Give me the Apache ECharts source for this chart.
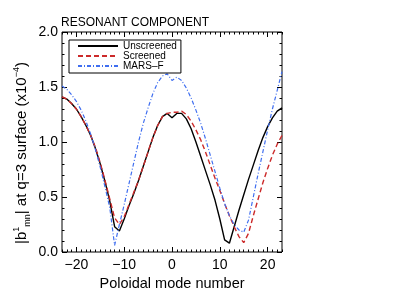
<!DOCTYPE html>
<html>
<head>
<meta charset="utf-8">
<script src="https://cdn.jsdelivr.net/npm/echarts@6/dist/echarts.min.js"></script>
<style>html,body{margin:0;padding:0;background:#fff;}#c{width:415px;height:297px;}</style>
</head>
<body>
<div id="c"></div>
<script>
const modes = [-23,-22,-21,-20,-19,-18,-17,-16,-15,-14,-13,-12,-11,-10,-9,-8,-7,-6,-5,-4,-3,-2,-1,0,1,2,3,4,5,6,7,8,9,10,11,12,13,14,15,16,17,18,19,20,21,22,23];
const unscreened = [1.41,1.39,1.35,1.30,1.23,1.15,1.06,0.94,0.80,0.64,0.46,0.23,0.19,0.30,0.42,0.53,0.65,0.78,0.91,1.04,1.15,1.23,1.26,1.22,1.26,1.26,1.21,1.12,1.00,0.87,0.74,0.61,0.47,0.30,0.11,0.08,0.23,0.38,0.52,0.66,0.79,0.92,1.04,1.14,1.22,1.28,1.31];
const screened = [1.41,1.39,1.35,1.30,1.23,1.15,1.06,0.95,0.81,0.65,0.48,0.31,0.25,0.32,0.43,0.54,0.65,0.78,0.91,1.04,1.15,1.23,1.26,1.27,1.27,1.28,1.25,1.19,1.11,1.02,0.91,0.79,0.67,0.56,0.44,0.33,0.23,0.14,0.085,0.17,0.33,0.48,0.63,0.76,0.88,0.98,1.06];
const marsF = [1.51,1.48,1.43,1.37,1.29,1.19,1.07,0.93,0.77,0.59,0.40,0.06,0.25,0.43,0.62,0.81,1.00,1.17,1.31,1.44,1.54,1.60,1.62,1.56,1.59,1.56,1.49,1.40,1.29,1.17,1.03,0.88,0.73,0.58,0.44,0.33,0.25,0.20,0.18,0.29,0.50,0.71,0.91,1.11,1.30,1.47,1.64];
const xMajorTicks = [-20,-10,0,10,20];
const seriesNames = ['Unscreened','Screened','MARS\u2013F'];

const FONT = 'Liberation Sans, Arial, Helvetica, sans-serif';
const pair = arr => modes.map((m,i)=>[m,arr[i]]);
const minus = v => String(v).replace('-', '\u2212');

const chart = echarts.init(document.getElementById('c'), null, {renderer:'canvas'});
const noLine = {show:false, onZero:false};
const xBase = {type:'value', min:-23, max:23, gridIndex:0, splitLine:{show:false}, axisLine:noLine};
chart.setOption({
  animation:false,
  backgroundColor:'#fff',
  title:{text:'RESONANT COMPONENT', left:61, top:17, padding:0,
    textStyle:{fontFamily:FONT, fontSize:12, fontWeight:'normal', color:'#000'}},
  grid:{left:62, top:32, width:220, height:220, show:true, borderColor:'#000', borderWidth:1, backgroundColor:'transparent'},
  legend:{
    data:seriesNames, orient:'vertical', left:69, top:40,
    padding:[1,4,2,8], itemGap:0, itemWidth:40, itemHeight:10,
    borderColor:'#000', borderWidth:1, backgroundColor:'#fff',
    itemStyle:{opacity:0},
    textStyle:{fontFamily:FONT, fontSize:10, color:'#000'}
  },
  xAxis:[
    Object.assign({}, xBase, {position:'bottom',
      axisTick:{show:true, inside:true, length:5, lineStyle:{color:'#000'}, customValues:xMajorTicks},
      axisLabel:{show:true, margin:6, fontFamily:FONT, fontSize:14, color:'#000', customValues:xMajorTicks, formatter:v=>minus(v)},
      name:'Poloidal mode number', nameLocation:'middle', nameGap:22,
      nameTextStyle:{fontFamily:FONT, fontSize:14.5, color:'#000'}}),
    Object.assign({}, xBase, {position:'bottom', interval:1,
      axisTick:{show:true, inside:true, length:2.5, lineStyle:{color:'#000'}}, axisLabel:{show:false}}),
    Object.assign({}, xBase, {position:'top',
      axisTick:{show:true, inside:true, length:5, lineStyle:{color:'#000'}, customValues:xMajorTicks},
      axisLabel:{show:false}}),
    Object.assign({}, xBase, {position:'top', interval:1,
      axisTick:{show:true, inside:true, length:2.5, lineStyle:{color:'#000'}}, axisLabel:{show:false}})
  ],
  yAxis:[
    {type:'value', min:0, max:2, interval:0.5, position:'left', splitLine:{show:false}, axisLine:noLine,
      axisTick:{show:true, inside:true, length:5, lineStyle:{color:'#000'}},
      minorTick:{show:true, splitNumber:5, length:2.5, lineStyle:{color:'#000'}},
      axisLabel:{margin:4, fontFamily:FONT, fontSize:14, color:'#000', formatter:v=>v.toFixed(1)}},
    {type:'value', min:0, max:2, interval:0.5, position:'right', splitLine:{show:false}, axisLine:noLine,
      axisTick:{show:true, inside:true, length:5, lineStyle:{color:'#000'}},
      minorTick:{show:true, splitNumber:5, length:2.5, lineStyle:{color:'#000'}},
      axisLabel:{show:false}}
  ],
  graphic:[{
    type:'text', x:22, y:153, rotation:Math.PI/2,
    style:{
      text:'{n||b}{sup|1}{sub|mn}{n|| at q=3 surface (x10}{sup|\u22124}{n|)}',
      align:'center', verticalAlign:'middle', fill:'#000',
      fontFamily:FONT, fontSize:15,
      rich:{
        n:{fontFamily:FONT, fontSize:15, lineHeight:20, verticalAlign:'middle'},
        sup:{fontFamily:FONT, fontSize:9, lineHeight:20, verticalAlign:'top'},
        sub:{fontFamily:FONT, fontSize:9, lineHeight:20, verticalAlign:'bottom'}
      }
    }
  }],
  series:[
    {name:seriesNames[0], type:'line', data:pair(unscreened), symbol:'none', xAxisIndex:0, yAxisIndex:0,
      lineStyle:{color:'#000', width:1.4, type:'solid'}, itemStyle:{color:'#000'}},
    {name:seriesNames[1], type:'line', data:pair(screened), symbol:'none', xAxisIndex:0, yAxisIndex:0,
      lineStyle:{color:'#cc2a2a', width:1.4, type:[5,3]}, itemStyle:{color:'#cc2a2a'}},
    {name:seriesNames[2], type:'line', data:pair(marsF), symbol:'none', xAxisIndex:0, yAxisIndex:0,
      lineStyle:{color:'#3f6ef0', width:1.2, type:[4,2,1,2]}, itemStyle:{color:'#3f6ef0'}}
  ]
});
</script>
</body>
</html>
